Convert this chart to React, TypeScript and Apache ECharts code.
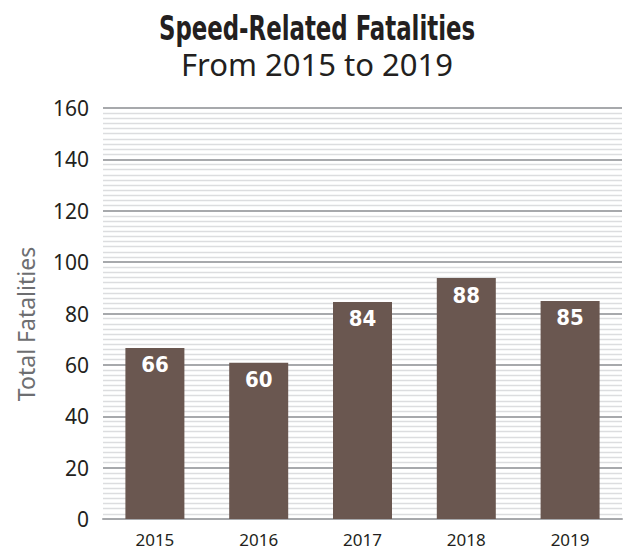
import React, { useEffect, useRef } from "react";
import * as echarts from "echarts";

const categories = ["2015", "2016", "2017", "2018", "2019"];
// Bar heights as drawn in the reference
const barValues = [66.6, 60.8, 84.5, 93.8, 84.9];
// Numbers printed on the bars
const labelValues = ["66", "60", "84", "88", "85"];
const yTicks = { min: 0, max: 160, interval: 20 };

const titleText = "Speed-Related Fatalities";
const subtitleText = "From 2015 to 2019";
const yAxisName = "Total Fatalities";

export default function App() {
  const ref = useRef<HTMLDivElement>(null);
  useEffect(() => {
    if (!ref.current) return;
    const chart = echarts.init(ref.current, null, { renderer: "svg" });
    chart.setOption({
      animation: false,
      backgroundColor: "#ffffff",
      grid: { left: 103, right: 3, top: 108, bottom: 33, containLabel: false },
      graphic: [
        {
          type: "text",
          x: 317,
          y: 29,
          scaleX: 0.77,
          style: {
            text: titleText,
            font: 'bold 33px "DejaVu Sans Condensed", "DejaVu Sans", sans-serif',
            fill: "#231f20",
            textAlign: "center",
            textVerticalAlign: "middle",
          },
        },
        {
          type: "text",
          x: 317,
          y: 64,
          style: {
            text: subtitleText,
            font: '31px "Noto Sans", sans-serif',
            fill: "#231f20",
            textAlign: "center",
            textVerticalAlign: "middle",
          },
        },
        {
          type: "text",
          x: 26,
          y: 324,
          rotation: Math.PI / 2,
          style: {
            text: yAxisName,
            font: '23px "Noto Sans", sans-serif',
            fill: "#6d6e71",
            textAlign: "center",
            textVerticalAlign: "middle",
          },
        },
      ],
      xAxis: {
        type: "category",
        data: categories,
        axisLine: { show: true, lineStyle: { color: "#a7a9ac", width: 2 } },
        axisTick: { show: false },
        axisLabel: {
          color: "#231f20",
          fontSize: 17,
          lineHeight: 17,
          fontFamily: '"Noto Sans", sans-serif',
          margin: 12,
        },
      },
      yAxis: {
        type: "value",
        min: yTicks.min,
        max: yTicks.max,
        interval: yTicks.interval,
        axisLine: { show: false },
        axisTick: { show: false },
        axisLabel: {
          color: "#231f20",
          fontSize: 21,
          fontFamily: '"Noto Sans", sans-serif',
          margin: 14,
        },
        splitLine: { show: true, lineStyle: { color: "#a7a9ac", width: 2 } },
        minorTick: { show: false, splitNumber: 10 },
        minorSplitLine: { show: true, lineStyle: { color: "#dcdddf", width: 1.3 } },
      },
      series: [
        {
          type: "bar",
          data: barValues,
          barWidth: 59,
          itemStyle: { color: "#6a5750" },
          label: {
            show: true,
            position: "insideTop",
            distance: 6,
            color: "#ffffff",
            fontSize: 22,
            fontWeight: "bold",
            fontFamily: '"DejaVu Sans Condensed", "DejaVu Sans", sans-serif',
            formatter: (p: any) => labelValues[p.dataIndex],
          },
        },
      ],
    });
    return () => chart.dispose();
  }, []);
  return (
    <div
      ref={ref}
      style={{ position: "fixed", left: 0, top: 0, width: 625, height: 552 }}
    />
  );
}
